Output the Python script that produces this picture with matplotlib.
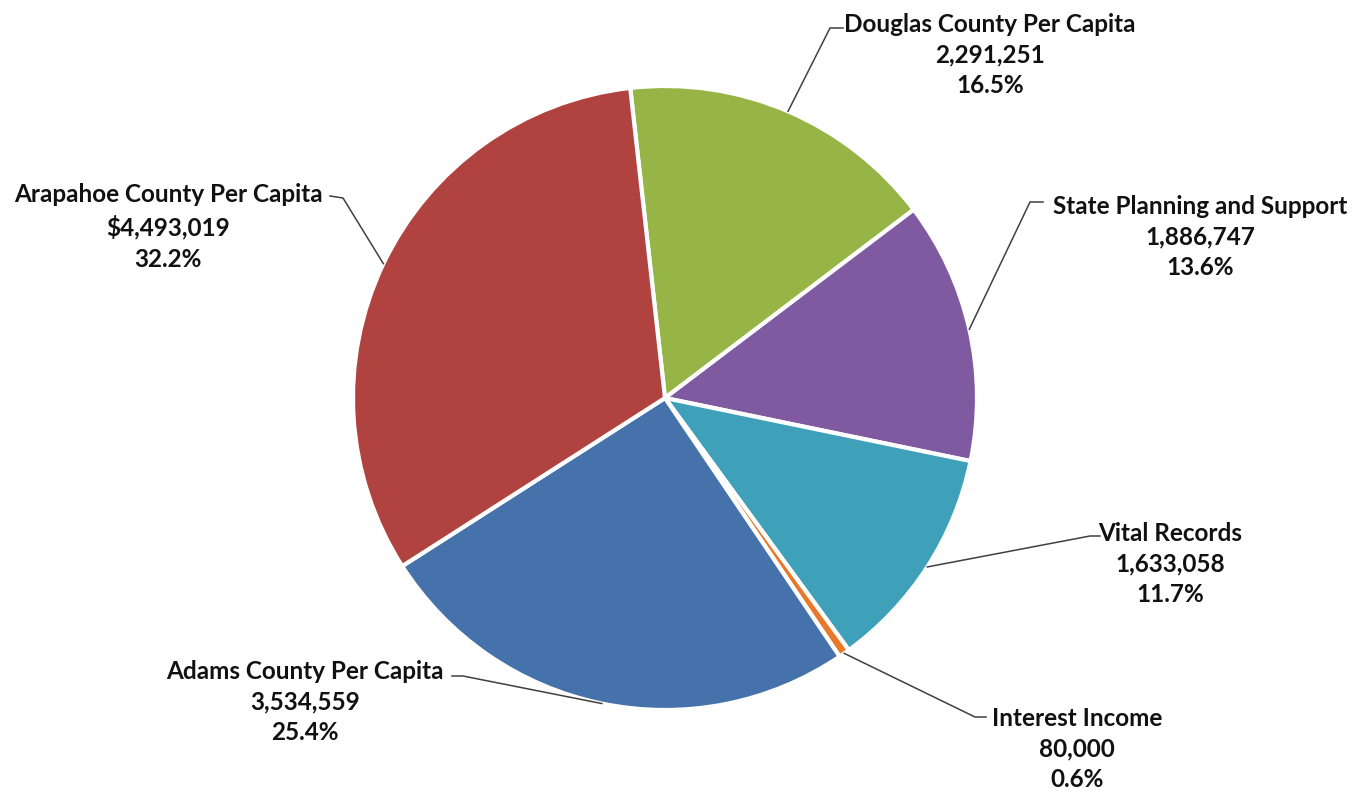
import numpy as np
import matplotlib
matplotlib.use('Agg')
import matplotlib.pyplot as plt

# revenue sources
sources = ['Douglas County Per Capita', 'State Planning and Support', 'Vital Records',
           'Interest Income', 'Adams County Per Capita', 'Arapahoe County Per Capita']
amounts = [2291251, 1886747, 1633058, 80000, 3534559, 4493019]
amount_text = ['2,291,251', '1,886,747', '1,633,058', '80,000', '3,534,559', '$4,493,019']
pct_text = ['16.5%', '13.6%', '11.7%', '0.6%', '25.4%', '32.2%']
colors = ['#97B546', '#7F5AA0', '#3FA0BA', '#E8782A', '#4572AB', '#B0433F']

W, H = 1361, 794
fig = plt.figure(figsize=(W / 100, H / 100), dpi=100)
ax = fig.add_axes([0, 0, 1, 1])

cx, cy, r = 665, H - 398, 312
wedges, _ = ax.pie(amounts, colors=colors, startangle=96.4, counterclock=False,
                   center=(cx, cy), radius=r,
                   wedgeprops=dict(edgecolor='white', linewidth=3))
ax.set_xlim(0, W)
ax.set_ylim(0, H)
ax.set_aspect('equal')
ax.axis('off')

# label block centre, elbow and end of the leader line (pixel coords from top)
label_pos = [(990, 55), (1200, 237), (1170, 564), (1077, 749), (305, 702), (168, 227)]
elbows = [((830, 28), (843, 28)), ((1030, 202), (1043, 202)), ((1090, 536), (1100, 536)),
          ((975, 717), (986, 717)), ((463, 676), (452, 676)), ((343, 198), (330, 196))]

for w, name, txt, pct, (lx, ly), (elb, end) in zip(wedges, sources, amount_text, pct_text,
                                                   label_pos, elbows):
    mid = np.deg2rad((w.theta1 + w.theta2) / 2)
    ex, ey = cx + r * np.cos(mid), cy + r * np.sin(mid)
    ax.plot([ex, elb[0], end[0]], [ey, H - elb[1], H - end[1]],
            color='#404040', lw=1.1, zorder=5)
    ax.text(lx, H - ly, f'{name}\n{txt}\n{pct}',
            ha='center', va='center', fontsize=17.5, fontweight='bold',
            family=['Lato', 'DejaVu Sans'], color='#111111', linespacing=1.42)

fig.savefig('out.png', dpi=100, facecolor='white')
